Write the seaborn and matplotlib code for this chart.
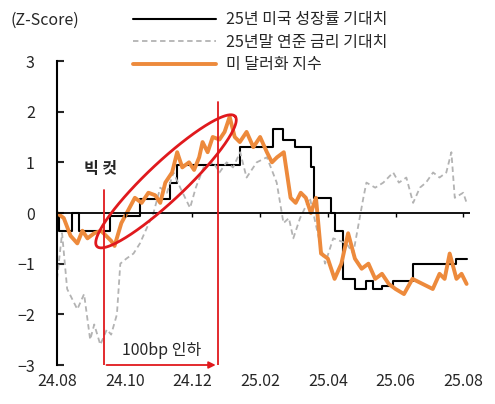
import numpy as np
import pandas as pd
import seaborn as sns
import matplotlib.pyplot as plt

# x in months since 2024-08
growth_x = [0, 0.05, 0.44, 0.64, 1.57, 2.46, 3.34, 3.54, 5.41, 6.39, 6.69, 7.03, 7.5, 7.6, 8.1, 8.2,
            8.45, 8.8, 9.14, 9.34, 9.6, 9.93, 10.52, 11.8, 12.1]
growth_y = [0, -0.35, 0, -0.35, -0.05, 0.27, 0.6, 0.95, 1.3, 1.65, 1.45, 1.3, 0.9, 0.3, 0, -0.35,
            -1.3, -1.5, -1.35, -1.5, -1.45, -1.35, -1.0, -0.9, -0.9]

rate_x = [0, 0.15, 0.3, 0.45, 0.6, 0.8, 0.98, 1.1, 1.28, 1.47, 1.6, 1.77, 1.87, 2.05, 2.26, 2.45, 2.65,
          2.85, 3.05, 3.25, 3.44, 3.64, 3.93, 4.1, 4.33, 4.62, 4.8, 5.01, 5.2, 5.41, 5.6, 5.9, 6.2,
          6.49, 6.69, 6.85, 6.98, 7.18, 7.47, 7.77, 7.92, 8.16, 8.55, 8.75, 9.05, 9.14, 9.4, 9.64,
          9.93, 10.1, 10.32, 10.52, 10.72, 10.9, 11.11, 11.3, 11.5, 11.65, 11.75, 12.0, 12.1]
rate_y = [-1.3, -0.4, -1.5, -1.7, -1.9, -1.6, -2.5, -2.2, -2.6, -2.3, -2.4, -2.0, -1.0, -0.9, -0.8,
          -0.6, -0.3, 0.0, 0.5, 0.4, 0.8, 0.5, 0.1, 0.5, 0.9, 1.0, 0.8, 1.0, 0.9, 1.2, 0.7, 1.0, 1.1,
          0.6, -0.2, -0.1, -0.5, -0.1, 0.3, -0.6, -1.0, -0.5, -0.6, -0.8, 0.3, 0.6, 0.5, 0.6,
          0.8, 0.6, 0.7, 0.2, 0.5, 0.6, 0.8, 0.7, 0.8, 1.2, 0.3, 0.4, 0.2]

dxy_x = [0, 0.2, 0.4, 0.6, 0.75, 0.9, 1.1, 1.3, 1.45, 1.6, 1.7, 1.9, 2.1, 2.3, 2.5, 2.7, 2.9, 3.05,
         3.2, 3.4, 3.55, 3.7, 3.9, 4.05, 4.2, 4.3, 4.45, 4.6, 4.8, 4.95, 5.1, 5.25, 5.4, 5.6, 5.8,
         6.0, 6.2, 6.35, 6.5, 6.7, 6.9, 7.05, 7.2, 7.35, 7.5, 7.65, 7.8, 8.0, 8.2, 8.4, 8.6, 8.8,
         9.0, 9.2, 9.4, 9.6, 9.8, 10.0, 10.25, 10.5, 10.8, 11.1, 11.3, 11.45, 11.6, 11.8, 11.95, 12.1]
dxy_y = [0, -0.1, -0.45, -0.6, -0.35, -0.5, -0.4, -0.35, -0.45, -0.55, -0.65, -0.2, 0.05, 0.3, 0.2,
         0.4, 0.35, 0.2, 0.6, 0.8, 1.2, 0.9, 1.0, 0.85, 1.1, 1.4, 1.2, 1.5, 1.45, 1.6, 1.9, 1.5,
         1.4, 1.6, 1.3, 1.5, 1.2, 1.0, 1.1, 1.2, 0.3, 0.2, 0.4, 0.3, 0.0, 0.3, -0.8, -0.9, -1.3,
         -1.0, -0.4, -0.9, -1.1, -1.0, -1.3, -1.2, -1.4, -1.5, -1.6, -1.3, -1.4, -1.5, -1.2,
         -1.3, -0.8, -1.3, -1.2, -1.4]

tick_pos = [0, 2, 4, 6, 8, 10, 12]
tick_labels = ['24.08', '24.10', '24.12', '25.02', '25.04', '25.06', '25.08']

sns.set_style('white')
plt.rcParams['font.family'] = ['Noto Sans CJK KR', 'DejaVu Sans']

fig = plt.figure(figsize=(4.95, 4.04), dpi=100)
ax = fig.add_axes([57 / 495, 39 / 404, 413 / 495, 304 / 404])

sns.lineplot(x=growth_x, y=growth_y, ax=ax, color='black', lw=1.5, drawstyle='steps-post',
             label='25년 미국 성장률 기대치')
sns.lineplot(x=rate_x, y=rate_y, ax=ax, color='#b3b3b3', lw=1.3, linestyle=(0, (3, 2)),
             label='25년말 연준 금리 기대치')
sns.lineplot(x=dxy_x, y=dxy_y, ax=ax, color='#ed8a3c', lw=2.8, label='미 달러화 지수')

ax.axhline(0, color='black', lw=1.3)
ax.vlines(tick_pos[1:], -0.08, 0, color='black', lw=1)

ax.set_xlim(0, 12.2)
ax.set_ylim(-3, 3)
ax.set_xticks(tick_pos)
ax.set_xticklabels(tick_labels)
ax.set_yticks(range(-3, 4))
for s in ['top', 'right', 'bottom']:
    ax.spines[s].set_visible(False)
ax.spines['left'].set_color('black')
ax.spines['left'].set_linewidth(1.5)
ax.tick_params(axis='y', direction='in', length=5, width=1.5, left=True, labelsize=11.5, pad=16)
ax.tick_params(axis='x', length=0, labelsize=11.5, pad=6)

# red annotations
red = '#e0191d'
ax.plot([1.38, 1.38], [0.46, -3.0], color=red, lw=1.3)
ax.plot([4.77, 4.77], [2.2, -3.0], color=red, lw=1.3)
ax.annotate('', xy=(4.77, -3.0), xytext=(1.38, -3.0),
            arrowprops=dict(arrowstyle='-|>', color=red, lw=1.3), annotation_clip=False)
ax.text(1.28, 0.72, '빅 컷', ha='center', va='bottom', fontsize=11.5, fontweight='bold')
ax.text(3.1, -2.72, '100bp 인하', ha='center', va='center', fontsize=11.5)

# ellipse drawn in pixel-like space then mapped back to data
px_m, px_v = 101.7 / 3, 152 / 3
p0 = np.array([1.18 * px_m, -0.66 * px_v])
p1 = np.array([5.26 * px_m, 1.91 * px_v])
c = (p0 + p1) / 2
d = p1 - p0
a = np.linalg.norm(d) / 2
ang = np.arctan2(d[1], d[0])
t = np.linspace(0, 2 * np.pi, 200)
ex = a * np.cos(t)
ey = 19 * np.sin(t)
X = c[0] + ex * np.cos(ang) - ey * np.sin(ang)
Y = c[1] + ex * np.sin(ang) + ey * np.cos(ang)
ax.plot(X / px_m, Y / px_v, color=red, lw=2)

ax.legend_.remove()
h, l = ax.get_legend_handles_labels()
fig.legend(h[:3], l[:3], loc='upper left', bbox_to_anchor=(122 / 495, 1.0), frameon=False,
           fontsize=11.5, handlelength=5.2, labelspacing=0.35, borderpad=0.2, handletextpad=0.6)
fig.text(10 / 495, 1 - 20 / 404, '(Z-Score)', fontsize=11.5, va='center')

fig.savefig('out.png', dpi=100)
